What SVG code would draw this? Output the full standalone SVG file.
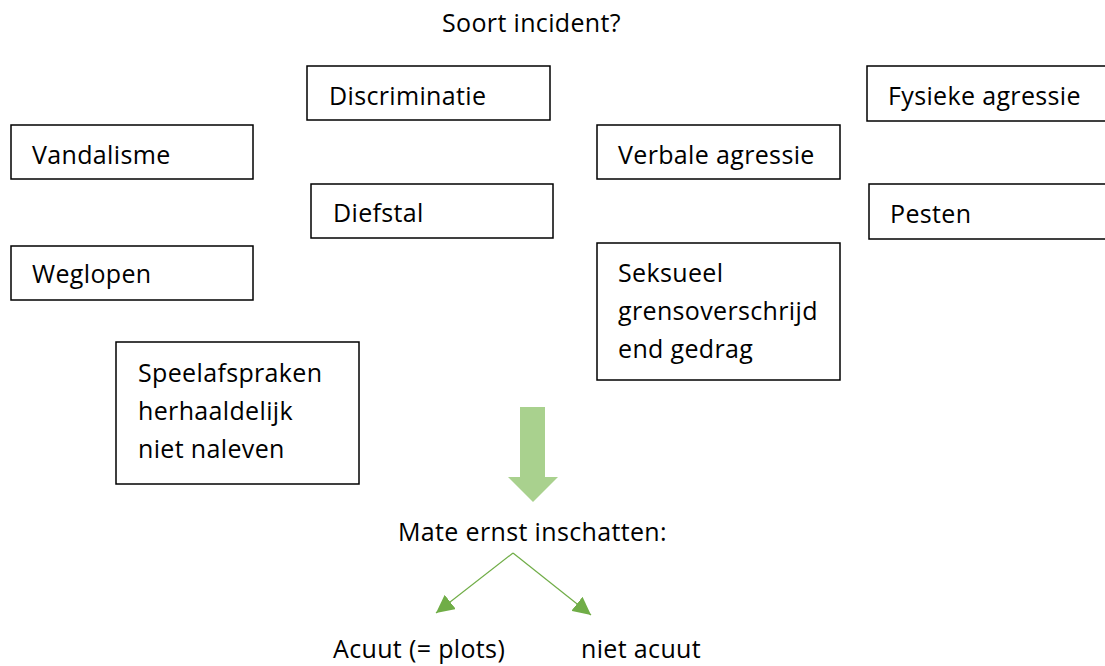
<svg xmlns="http://www.w3.org/2000/svg" width="1105" height="666" viewBox="0 0 1105 666">
<style>
  text { font-family: "Open Sans", "Liberation Sans", sans-serif; font-size: 25px; letter-spacing: 0.35px; fill: #000; }
  .box { fill: #fff; stroke: #000; stroke-width: 1.5; }
  .conn { stroke: #70ad47; stroke-width: 1.2; fill: none; }
</style>
<defs>
  <marker id="ah2" viewBox="0 0 10 10" refX="10" refY="5" markerWidth="18" markerHeight="18" orient="auto" markerUnits="userSpaceOnUse">
    <path d="M0,0 L10,5 L0,10 z" fill="#70ad47"/>
  </marker>
</defs>
<rect width="1105" height="666" fill="#fff"/>
<g id="title"><text x="442" y="32">Soort incident?</text></g>
<g id="discriminatie"><rect class="box" x="307" y="66" width="243" height="54"/><text x="329" y="105">Discriminatie</text></g>
<g id="fysieke"><rect class="box" x="867" y="66" width="245" height="55"/><text x="888" y="105">Fysieke agressie</text></g>
<g id="vandalisme"><rect class="box" x="11" y="125" width="242" height="54"/><text x="32" y="164">Vandalisme</text></g>
<g id="verbale"><rect class="box" x="597" y="125" width="243" height="54"/><text x="618" y="164">Verbale agressie</text></g>
<g id="diefstal"><rect class="box" x="311" y="184" width="242" height="54"/><text x="333" y="222">Diefstal</text></g>
<g id="pesten"><rect class="box" x="869" y="184" width="245" height="55"/><text x="890" y="223">Pesten</text></g>
<g id="weglopen"><rect class="box" x="11" y="246" width="242" height="54"/><text x="32" y="283">Weglopen</text></g>
<g id="seksueel"><rect class="box" x="597" y="243" width="243" height="137"/><text x="618" y="282">Seksueel</text><text x="618" y="320">grensoverschrijd</text><text x="618" y="358">end gedrag</text></g>
<g id="speelafspraken"><rect class="box" x="116" y="342" width="243" height="142"/><text x="138" y="382">Speelafspraken</text><text x="138" y="420">herhaaldelijk</text><text x="138" y="458">niet naleven</text></g>
<g id="bigarrow"><path d="M520,407 L545,407 L545,477 L558,477 L533,502 L508,477 L520,477 z" fill="#a9d18e"/></g>
<g id="mate"><text x="398" y="541">Mate ernst inschatten:</text></g>
<g id="connectors">
  <line class="conn" x1="513" y1="553" x2="436" y2="613" marker-end="url(#ah2)"/>
  <line class="conn" x1="513" y1="553" x2="591" y2="615" marker-end="url(#ah2)"/>
</g>
<g id="acuut"><text x="333" y="658">Acuut (= plots)</text></g>
<g id="nietacuut"><text x="581" y="658">niet acuut</text></g>
</svg>
